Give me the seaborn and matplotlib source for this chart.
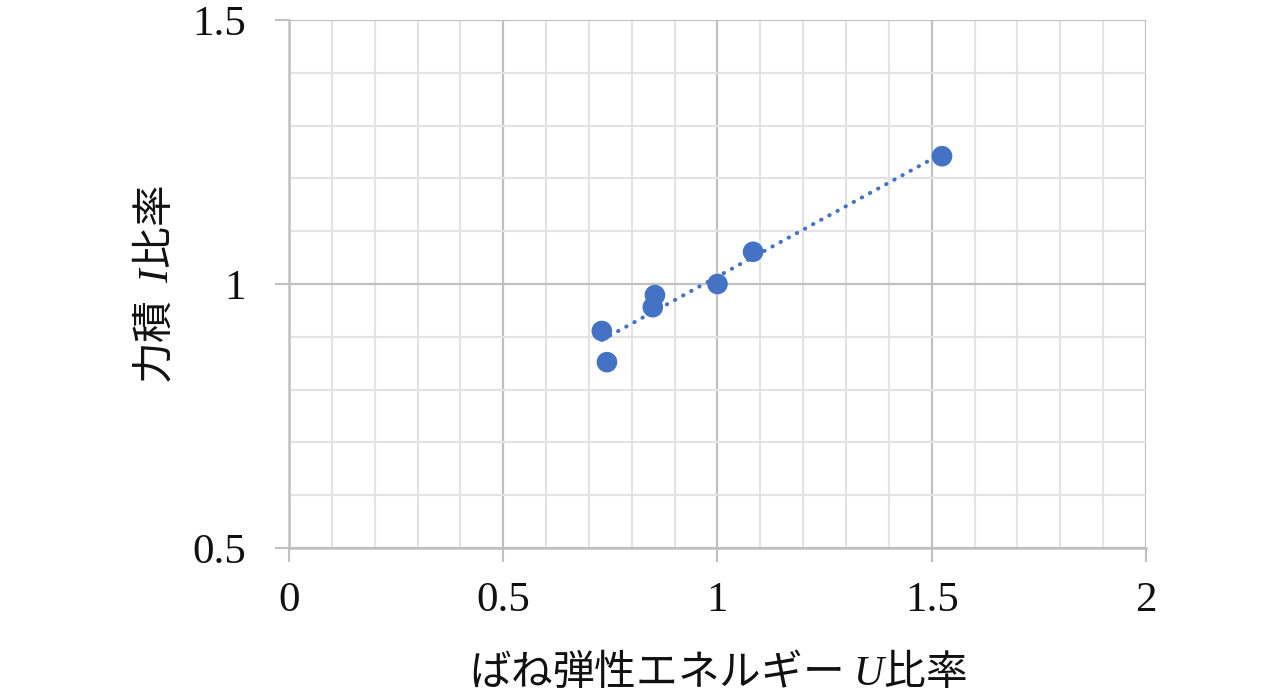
import numpy as np
import pandas as pd
import seaborn as sns
import matplotlib
matplotlib.use("Agg")
import matplotlib.pyplot as plt
from matplotlib.ticker import MultipleLocator

# values
u_ratio = [0.730, 0.742, 0.854, 0.849, 1.000, 1.083, 1.524]
i_ratio = [0.911, 0.852, 0.979, 0.956, 1.000, 1.061, 1.242]
x_ticks = [0, 0.5, 1, 1.5, 2]
y_ticks = [0.5, 1, 1.5]
x_ticklabels = ["0", "0.5", "1", "1.5", "2"]
y_ticklabels = ["0.5", "1", "1.5"]

df = pd.DataFrame({"u": u_ratio, "i": i_ratio})

sns.set_style("white")
plt.rcParams["font.family"] = ["Noto Sans CJK JP", "DejaVu Sans"]
plt.rcParams["mathtext.fontset"] = "custom"
plt.rcParams["mathtext.it"] = "Liberation Serif:italic"
plt.rcParams["mathtext.rm"] = "Noto Sans CJK JP"

blue = "#4472C4"
major_c = "#c0c0c0"
minor_c = "#e3e3e3"

fig = plt.figure(figsize=(12.84, 6.92), dpi=100)
ax = fig.add_axes([0.2251, 0.2081, 0.8925 - 0.2251, 0.9711 - 0.2081])

sns.regplot(data=df, x="u", y="i", ax=ax, scatter=False, ci=None, truncate=True,
            line_kws=dict(color=blue, lw=2.9, linestyle=(0, (0.1, 2.2)),
                          dash_capstyle="round", zorder=4))
sns.scatterplot(data=df, x="u", y="i", ax=ax, color=blue, s=220,
                edgecolor="none", zorder=3)

ax.set_xlim(0, 2)
ax.set_ylim(0.5, 1.5)
ax.set_xticks(x_ticks)
ax.set_xticklabels(x_ticklabels)
ax.set_yticks(y_ticks)
ax.set_yticklabels(y_ticklabels)
ax.xaxis.set_minor_locator(MultipleLocator(0.1))
ax.yaxis.set_minor_locator(MultipleLocator(0.1))

ax.grid(which="minor", color=minor_c, lw=1.5)
ax.grid(which="major", color=major_c, lw=1.6)
ax.set_axisbelow(True)

for side in ["top", "right"]:
    ax.spines[side].set_visible(False)
for side in ["left", "bottom"]:
    ax.spines[side].set_color(major_c)
    ax.spines[side].set_linewidth(1.8)

ax.tick_params(which="major", bottom=True, left=True, length=10, width=1.5,
               color=major_c, direction="out")
ax.tick_params(axis="x", pad=14)
ax.tick_params(axis="y", pad=21)
ax.tick_params(which="minor", length=0)
for lab in ax.get_xticklabels() + ax.get_yticklabels():
    lab.set_fontfamily("Liberation Serif")
    lab.set_fontsize(31)
    lab.set_color("#111111")

ax.set_xlabel("ばね弾性エネルギー $U$比率", fontsize=30, color="#111111")
ax.set_ylabel("力積  $I$比率", fontsize=30, color="#111111")
ax.xaxis.set_label_coords(0.5, -0.195)
ax.yaxis.set_label_coords(-0.131, 0.5)

fig.savefig("out.png", dpi=100)
